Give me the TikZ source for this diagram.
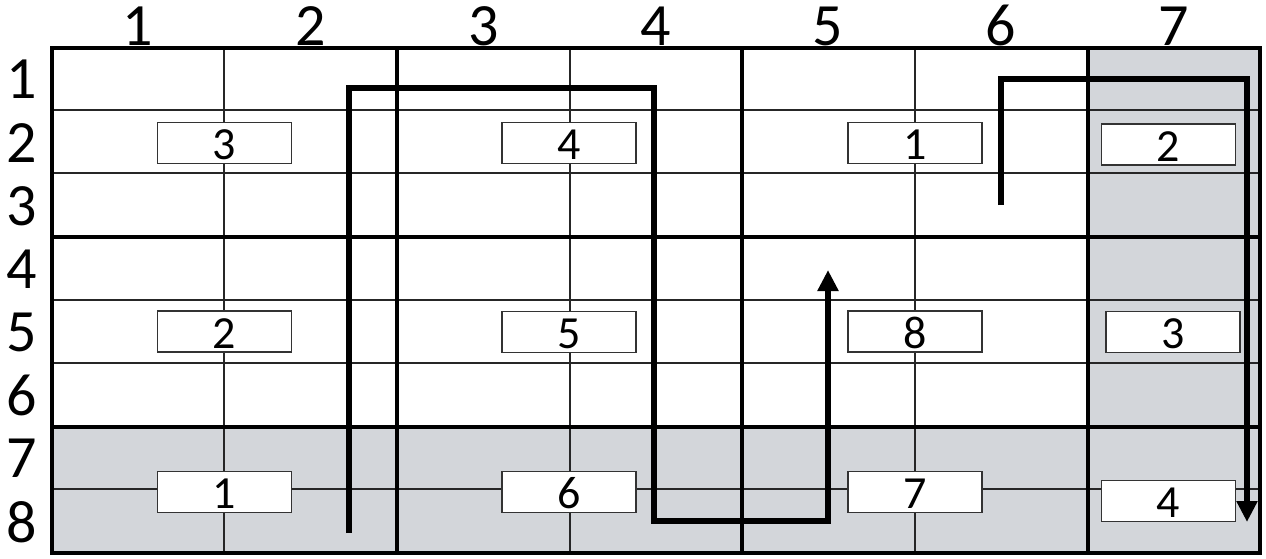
\documentclass[tikz,border=0pt]{standalone}
\usepackage{fontspec}
\setmainfont{Carlito}
\usetikzlibrary{arrows.meta}
\definecolor{cellgray}{RGB}{211,214,218}
\begin{document}
\begin{tikzpicture}[x=1pt,y=-1pt,
  thingrid/.style={line width=1.5pt, draw=black!85},
  thickgrid/.style={line width=4.5pt, draw=black},
  border/.style={line width=3.5pt, draw=black},
  numbox/.style={draw=black!80, line width=1.2pt, fill=white, minimum width=134pt, minimum height=41pt, inner sep=0pt, text height=33pt, text depth=0pt, font=\fontsize{46}{46}\selectfont},
  axislabel/.style={font=\fontsize{60}{60}\selectfont, inner sep=0pt},
  route/.style={line width=5.5pt, line join=miter},
  tipped/.style={-{Triangle[length=21pt,width=20pt]}}
]
\useasboundingbox (0,0) rectangle (1266,558);
% shaded cells
\fill[cellgray] (52,427) rectangle (1260,553);
\fill[cellgray] (1088,48) rectangle (1260,553);
% thin grid
\foreach \x in {224,570,915} \draw[thingrid] (\x,48) -- (\x,553);
\foreach \y in {110,173,300,363,489} \draw[thingrid] (52,\y) -- (1260,\y);
% thick grid
\foreach \x in {397,742,1088} \draw[thickgrid] (\x,48) -- (\x,553);
\foreach \y in {237,427} \draw[thickgrid] (52,\y) -- (1260,\y);
\draw[border] (52,48) rectangle (1260,553);
% column labels
\foreach \n/\x in {1/138,2/311,3/484,4/656,5/828,6/1001,7/1174}
  \node[axislabel, anchor=base] (c\n) at (\x,45) {\n};
% row labels
\foreach \n/\y in {1/79,2/143,3/206,4/269,5/332,6/395,7/458,8/522}
  \node[axislabel] (r\n) at (22,\y) {\n};
% number boxes
\node[numbox] (b11) at (224.5,143) {3};
\node[numbox] (b12) at (569,143) {4};
\node[numbox] (b13) at (915,143) {1};
\node[numbox] (b14) at (1168.5,144.5) {2};
\node[numbox] (b21) at (224.5,331.5) {2};
\node[numbox] (b22) at (569,332) {5};
\node[numbox] (b23) at (915,331.5) {8};
\node[numbox] (b24) at (1173,332) {3};
\node[numbox] (b31) at (224.5,492) {1};
\node[numbox] (b32) at (569,492) {6};
\node[numbox] (b33) at (915,492) {7};
\node[numbox] (b34) at (1168.5,501) {4};
% routes
\coordinate (p0) at (349,533);
\coordinate (p1) at (349,88);
\coordinate (p2) at (654,88);
\coordinate (p3) at (654,521);
\coordinate (p4) at (828,521);
\coordinate (p5) at (828,270);
\draw[route, tipped] (p0) -- (p1) -- (p2) -- (p3) -- (p4) -- (p5);
\coordinate (q0) at (1001,205);
\coordinate (q1) at (1001,79);
\coordinate (q2) at (1247,79);
\coordinate (q3) at (1247,522);
\draw[route, tipped] (q0) -- (q1) -- (q2) -- (q3);
\end{tikzpicture}
\end{document}
